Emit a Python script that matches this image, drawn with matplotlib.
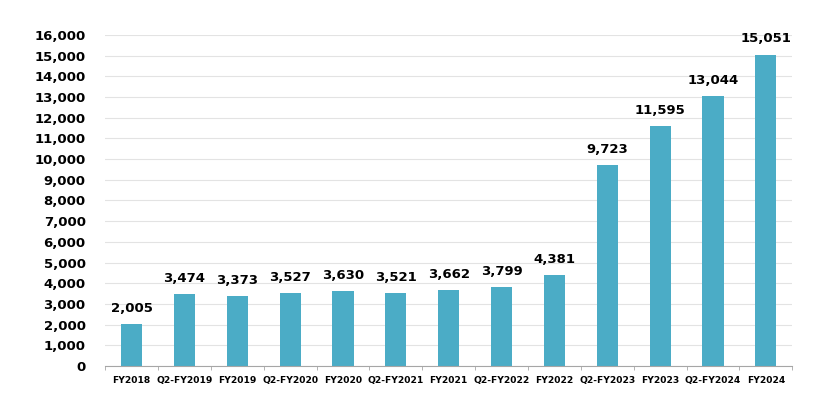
import matplotlib
matplotlib.use("Agg")
import matplotlib.pyplot as plt
import numpy as np

categories = ["FY2018", "Q2-FY2019", "FY2019", "Q2-FY2020", "FY2020", "Q2-FY2021",
              "FY2021", "Q2-FY2022", "FY2022", "Q2-FY2023", "FY2023", "Q2-FY2024", "FY2024"]
values = [2005, 3474, 3373, 3527, 3630, 3521, 3662, 3799, 4381, 9723, 11595, 13044, 15051]
yticks = list(range(0, 16001, 1000))

plt.rcParams['font.family'] = ['DejaVu Sans']
fig = plt.figure(figsize=(8.21, 3.99), dpi=100)
ax = fig.add_axes([0.128, 0.083, 0.837, 0.829])

x = np.arange(len(categories))
ax.bar(x, values, width=0.4, color="#4BACC6", zorder=3)
for xi, v in zip(x, values):
    ax.text(xi, v + 450, f"{v:,}", ha="center", va="bottom", fontsize=9.5,
            fontweight="bold", color="#000000")

ax.set_xlim(-0.5, len(categories) - 0.5)
ax.set_ylim(0, 16000)
ax.set_yticks(yticks)
ax.set_yticklabels([f"{t:,}" for t in yticks], fontsize=9.5, fontweight="bold")
ax.yaxis.grid(True, color="#E3E3E3", linewidth=0.8, zorder=0)
ax.tick_params(axis="y", length=0, pad=14)

ax.set_xticks(x)
ax.set_xticklabels(categories, fontsize=6.6, fontweight="bold")
ax.set_xticks(np.arange(-0.5, len(categories)), minor=True)
ax.tick_params(axis="x", which="major", length=0, pad=7)
ax.tick_params(axis="x", which="minor", length=3, color="#A6A6A6", direction="out")

for s in ["top", "right", "left"]:
    ax.spines[s].set_visible(False)
ax.spines["bottom"].set_color("#A6A6A6")
ax.spines["bottom"].set_zorder(4)

fig.savefig("out.png", dpi=100)
